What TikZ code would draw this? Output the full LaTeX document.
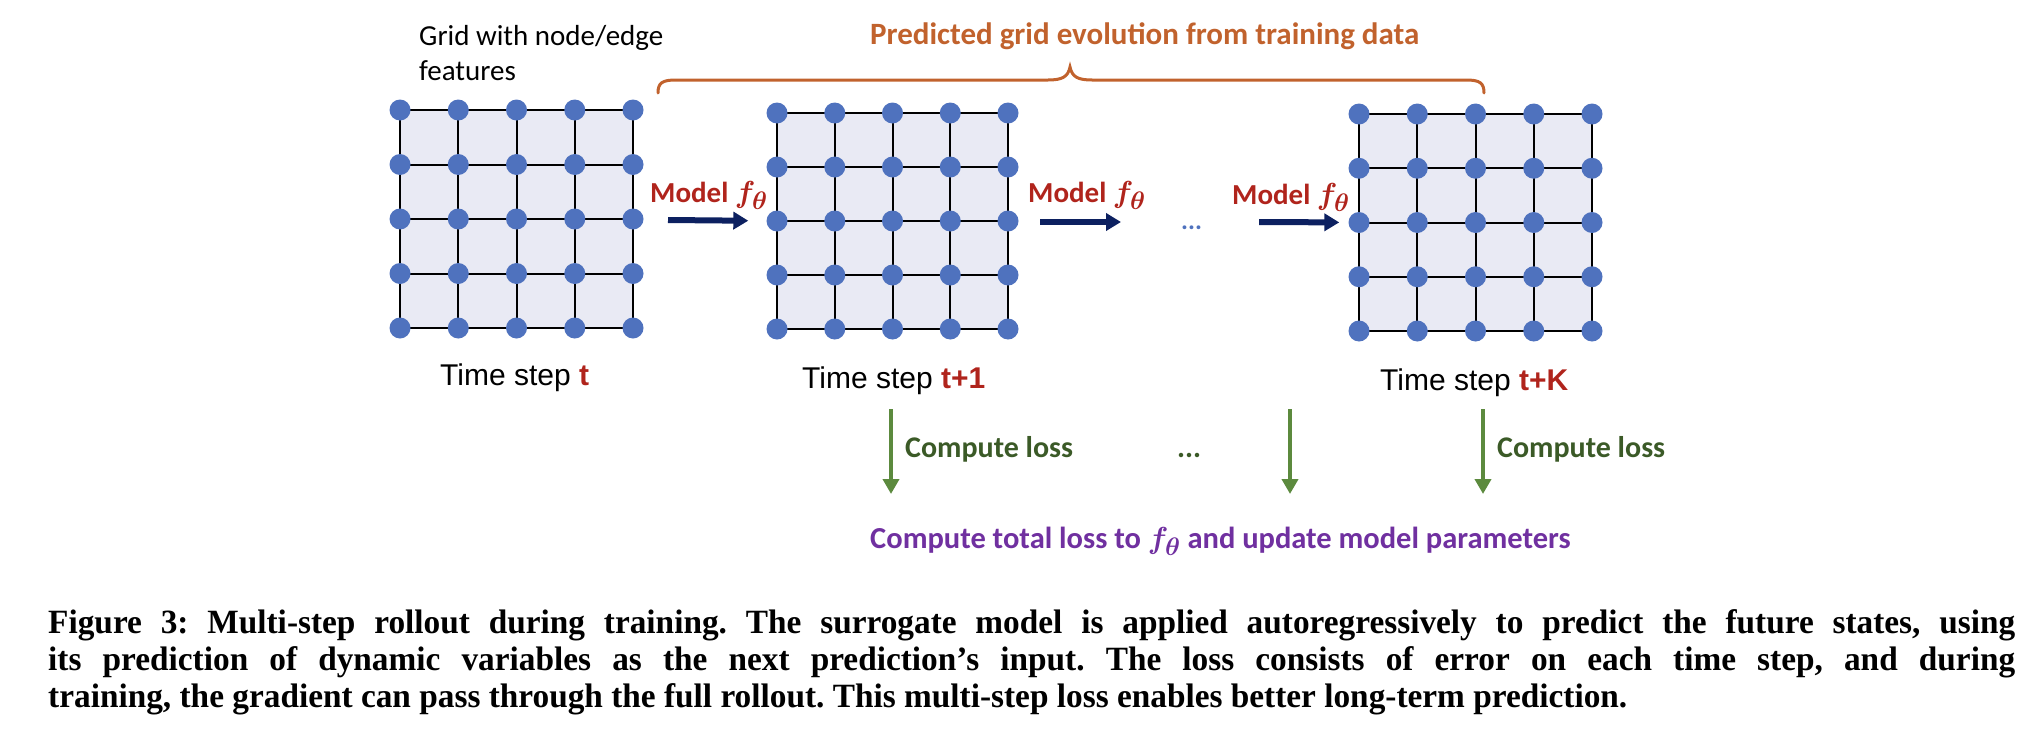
\documentclass[tikz,border=0pt]{standalone}
\usepackage{fontspec}
\usepackage{amsmath,bm,graphicx}
\usetikzlibrary{arrows.meta}
\newfontfamily\calibri{Carlito}
\newfontfamily\arialf{Liberation Sans}
\newfontfamily\capfont[FakeStretch=0.98]{Liberation Serif}
\definecolor{gridbg}{RGB}{233,234,244}
\definecolor{dotblue}{RGB}{79,114,190}
\definecolor{navy}{RGB}{12,32,96}
\definecolor{mred}{RGB}{176,36,28}
\definecolor{bracecol}{RGB}{193,98,45}
\definecolor{larrow}{RGB}{92,138,62}
\definecolor{ltext}{RGB}{59,90,39}
\definecolor{purp}{RGB}{112,48,160}
\newcommand{\ftheta}{\scalebox{1.22}{$\bm{f_{\theta}}$}}
\tikzset{
  gridline/.style={line width=2pt, draw=black},
  gdot/.style={circle, fill=dotblue, draw=none, inner sep=0pt, minimum size=21pt},
  modelarrow/.style={draw=navy, line width=6pt, -{Triangle[length=15pt,width=17pt]}},
  lossarrow/.style={draw=larrow, line width=4pt, -{Triangle[length=15pt,width=16pt]}},
  bracestyle/.style={draw=bracecol, line width=3pt, line cap=round},
  modellbl/.style={anchor=base west, inner sep=0pt, text=mred, font=\calibri\bfseries\fontsize{29}{34}\selectfont},
  steplbl/.style={anchor=base west, inner sep=0pt, font=\arialf\fontsize{30}{36}\selectfont},
  losslbl/.style={anchor=base west, inner sep=0pt, text=ltext, font=\calibri\bfseries\fontsize{30}{36}\selectfont},
}
\newcommand{\drawmesh}[5]{% #1 name, #2 x0, #3 x1, #4 y0, #5 y1
  \fill[gridbg] (#2,#4) rectangle (#3,#5);
  \foreach \i in {0,...,4}{
    \foreach \j in {0,...,4}{
      \pgfmathsetmacro{\xx}{#2+(#3-#2)*\i/4}
      \pgfmathsetmacro{\yy}{#4+(#5-#4)*\j/4}
      \coordinate (#1-\i-\j) at (\xx,\yy);
    }
  }
  \foreach \k in {0,...,4}{
    \draw[gridline] (#1-0-\k) -- (#1-4-\k);
    \draw[gridline] (#1-\k-0) -- (#1-\k-4);
  }
  \foreach \i in {0,...,4}{
    \foreach \j in {0,...,4}{
      \node[gdot] (#1d-\i-\j) at (#1-\i-\j) {};
    }
  }
}
\begin{document}
\begin{tikzpicture}[x=1pt,y=-1pt]
\useasboundingbox (0,0) rectangle (2028,744);

% grids
\drawmesh{ga}{400}{633}{110}{328}
\drawmesh{gb}{777}{1008}{113}{329}
\drawmesh{gc}{1359}{1592}{114}{331}

% top-left label
\node[anchor=base west, inner sep=0pt, font=\calibri\fontsize{29}{35}\selectfont] (glbl1) at (419,45) {Grid with node/edge};
\node[anchor=base west, inner sep=0pt, font=\calibri\fontsize{29}{35}\selectfont] (glbl2) at (419,80) {features};

% brace and title
\node[anchor=base west, inner sep=0pt, text=bracecol, font=\calibri\bfseries\fontsize{31}{36}\selectfont] (title) at (870,44) {Predicted grid evolution from training data};
\coordinate (brL) at (658,93);
\coordinate (brT) at (1070,67);
\coordinate (brR) at (1484,93);
\draw[bracestyle] (brL) .. controls (658,83) and (662,80) .. (676,80) -- (1048,80)
  .. controls (1062,80) and (1068,77) .. (brT)
  .. controls (1072,77) and (1078,80) .. (1092,80) -- (1466,80)
  .. controls (1480,80) and (1484,83) .. (brR);

% model arrows
\node[modellbl] (m1) at (650,202) {Model \ftheta};
\node[modellbl] (m2) at (1028,202) {Model \ftheta};
\node[modellbl] (m3) at (1232,204) {Model \ftheta};
\coordinate (a1s) at (668,220);
\coordinate (a2s) at (1040,222);
\coordinate (a2e) at (1121,222);
\coordinate (a3s) at (1259,222);
\draw[modelarrow, shorten >=18pt] (a1s) -- (gbd-0-2);
\draw[modelarrow] (a2s) -- (a2e);
\draw[modelarrow, shorten >=9pt] (a3s) -- (gcd-0-2);
\node[anchor=base west, inner sep=0pt, text=dotblue, font=\calibri\bfseries\fontsize{26}{30}\selectfont] (dotsA) at (1181,229) {...};

% time step labels
\node[steplbl] (ts1) at (440,385) {Time step \textcolor{mred}{\bfseries t}};
\node[steplbl] (ts2) at (802,388) {Time step \textcolor{mred}{\bfseries t+1}};
\node[steplbl] (ts3) at (1380,390) {Time step \textcolor{mred}{\bfseries t+K}};

% loss arrows
\coordinate (l1s) at (891,409); \coordinate (l1e) at (891,494);
\coordinate (l2s) at (1290,409); \coordinate (l2e) at (1290,494);
\coordinate (l3s) at (1483,409); \coordinate (l3e) at (1483,494);
\draw[lossarrow] (l1s) -- (l1e);
\draw[lossarrow] (l2s) -- (l2e);
\draw[lossarrow] (l3s) -- (l3e);
\node[losslbl] (cl1) at (905,457) {Compute loss};
\node[losslbl] (dotsB) at (1177,457) {...};
\node[losslbl] (cl2) at (1497,457) {Compute loss};

\node[anchor=base west, inner sep=0pt, text=purp, font=\calibri\bfseries\fontsize{30.5}{36}\selectfont] (total) at (870,548) {Compute total loss to \ftheta{} and update model parameters};

% caption
\node[anchor=north west, inner sep=0pt, text width=1967pt, align=justify,
      font=\capfont\bfseries\fontsize{34}{37}\selectfont\frenchspacing] (cap) at (48,609)
{Figure 3: Multi-step rollout during training. The surrogate model is applied autoregressively to predict the future states, using\linebreak
its prediction of dynamic variables as the next prediction’s input. The loss consists of error on each time step, and during\linebreak
training, the gradient can pass through the full rollout. This multi-step loss enables better long-term prediction.};
\end{tikzpicture}
\end{document}
